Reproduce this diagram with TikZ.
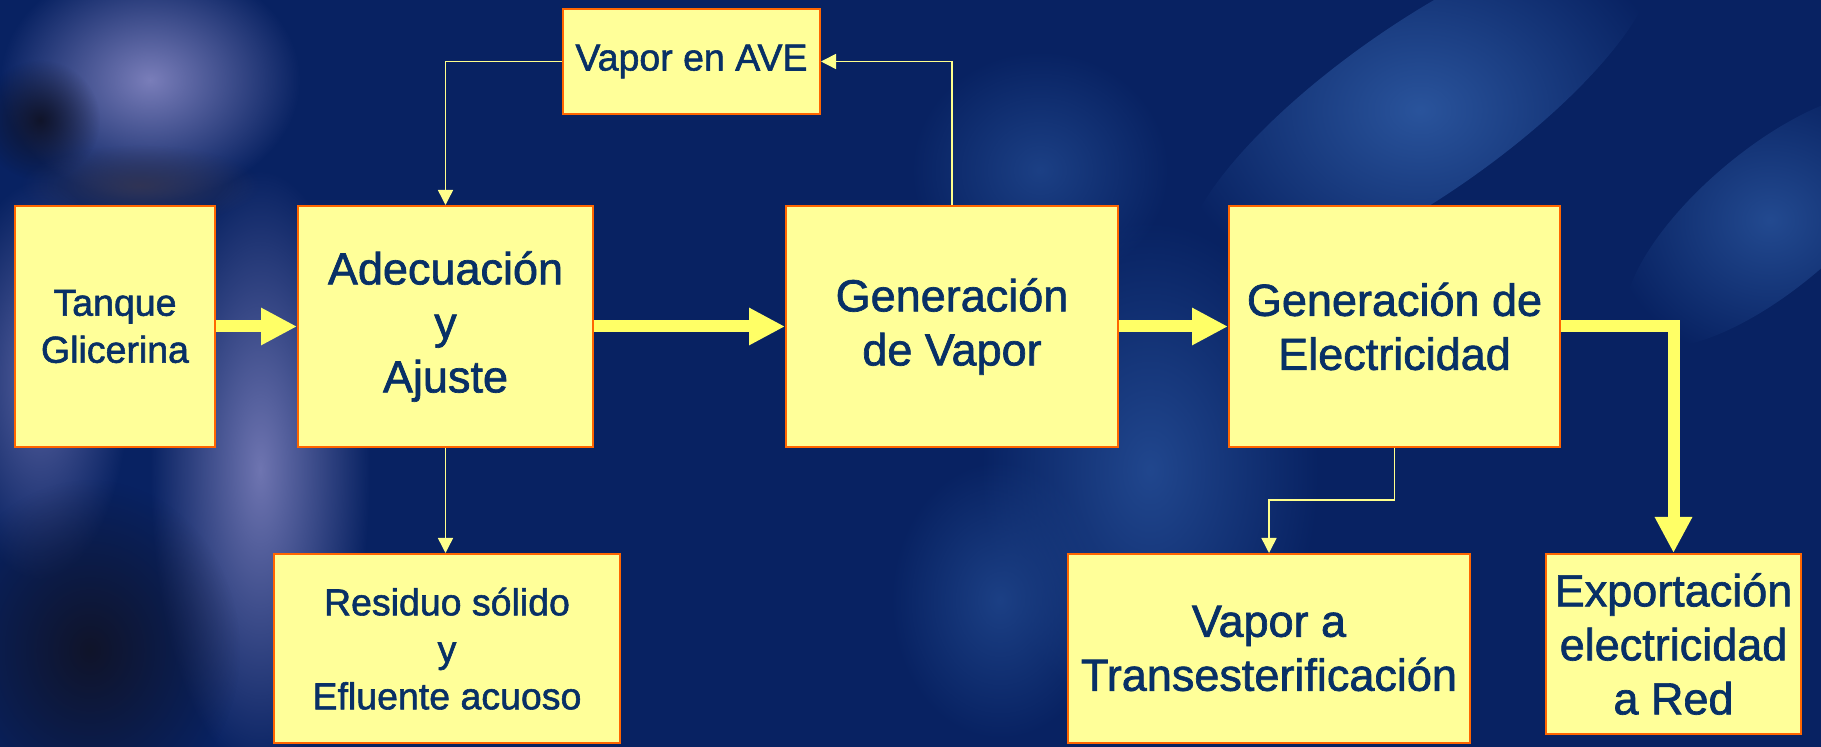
\documentclass[tikz,border=0pt]{standalone}
\usepackage{fontspec}
\setmainfont{Liberation Sans}[FakeBold=1.5]
\usetikzlibrary{arrows.meta, fadings}

\definecolor{bgnavy}{RGB}{8,34,98}
\definecolor{haze}{RGB}{42,84,156}
\definecolor{lavender}{RGB}{122,126,186}
\definecolor{shadow}{RGB}{16,20,42}
\definecolor{boxfill}{RGB}{255,255,153}
\definecolor{boxline}{RGB}{255,102,0}
\definecolor{txtblue}{RGB}{8,48,102}
\definecolor{flowyellow}{RGB}{255,255,102}
\definecolor{lineyellow}{RGB}{255,255,140}

\newcommand{\bigtxt}{\fontsize{22.5}{27}\selectfont}
\newcommand{\smalltxt}{\fontsize{18.75}{23.5}\selectfont}

\tikzfading[name=softblob, inner color=transparent!0, outer color=transparent!100]

\begin{document}
\begin{tikzpicture}[x=0.5pt, y=-0.5pt,
	box/.style={
		draw=boxline, % common look of all blocks
		fill=boxfill,
		line width=1pt,
		text=txtblue,
		align=center,
		inner sep=0pt,
	},
	bigbox/.style={box, minimum height=120.5pt, font=\bigtxt},
	lowbox/.style={box, minimum height=94.5pt},
	flow/.style={draw=flowyellow, line width=6pt, -{Triangle[length=18pt,width=17.5pt]}},
	link/.style={draw=lineyellow, line width=0.75pt, -{Triangle[length=7.5pt,width=7.5pt]}},
]
	% backdrop
	\fill[bgnavy] (0,0) rectangle (1821,747);
	\useasboundingbox (0,0) rectangle (1821,747);
	\fill[lavender, path fading=softblob] (150,80) ellipse (150 and 120);
	\fill[shadow, path fading=softblob] (40,120) ellipse (60 and 60);
	\fill[shadow!70!lavender, path fading=softblob] (140,185) ellipse (120 and 40);
	\fill[lavender!90!bgnavy, path fading=softblob] (260,470) ellipse (110 and 300);
	\fill[lavender!70!bgnavy, path fading=softblob] (40,380) ellipse (90 and 200);
	\fill[shadow, path fading=softblob] (90,650) ellipse (150 and 170);
	\fill[haze, path fading=softblob, rotate around={35:(1420,110)}] (1420,110) ellipse (280 and 85);
	\fill[haze!80!bgnavy, path fading=softblob, rotate around={40:(1770,220)}] (1770,220) ellipse (180 and 70);
	\fill[haze!75!bgnavy, path fading=softblob] (1150,470) ellipse (170 and 250);
	\fill[haze!60!bgnavy, path fading=softblob] (1040,170) ellipse (130 and 120);
	\fill[haze!60!bgnavy, path fading=softblob] (1000,600) ellipse (110 and 140);

	% blocks
	\node[bigbox, minimum width=100pt, font=\smalltxt] (tank) at (115,326.5) {Tanque\\Glicerina};
	\node[bigbox, minimum width=147.5pt] (adj) at (445.5,326.5) {Adecuaci\'on\\y\\Ajuste};
	\node[box, minimum width=128.5pt, minimum height=52.5pt, font=\smalltxt] (ave) at (691.5,61.5) {Vapor en AVE};
	\node[bigbox, minimum width=166pt] (steam) at (952,326.5) {Generaci\'on\\de Vapor};
	\node[bigbox, minimum width=165.5pt] (elec) at (1394.5,326.5) {Generaci\'on de\\Electricidad};
	\node[lowbox, minimum width=173pt, font=\smalltxt, text depth=0pt] (waste) at (447,648.5) {Residuo s\'olido\\y\\Efluente acuoso};
	\node[lowbox, minimum width=201pt, font=\bigtxt] (trans) at (1269,648.5) {Vapor a\\Transesterificaci\'on};
	\node[box, minimum width=127.5pt, minimum height=90pt, font=\bigtxt] (export) at (1673.5,644) {Exportaci\'on\\electricidad\\a Red};

	% main line
	\foreach \a/\b in {tank/adj, adj/steam, steam/elec}{
		\draw[flow] (\a) -- (\b);
	}
	\draw[flow] (elec.east) -| (export.north);

	% side streams
	\draw[link] (adj.south) -- (adj.south |- waste.north);
	\draw[link] (ave.west) -| (adj.north);
	\draw[link] (steam.north) |- (ave.east);
	\draw[link] (elec.south) -- ++(0,-26pt) -| (trans.north);

\end{tikzpicture}
\end{document}
